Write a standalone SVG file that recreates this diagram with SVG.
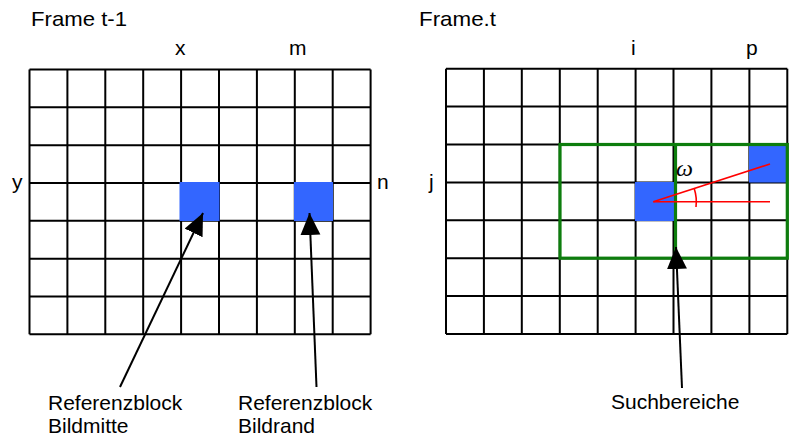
<svg xmlns="http://www.w3.org/2000/svg" width="789" height="440" viewBox="0 0 789 440">
<style>
.grid{fill:none;stroke:#000;stroke-width:2}
.blk{fill:#3366ff}
.lbl{font-family:"Liberation Sans",Arial,sans-serif;font-size:21px;fill:#000}
.conn{stroke:#000;stroke-width:2;fill:none}
.red{stroke:#ff0000;stroke-width:1.6;fill:none}
.green{stroke:#0d7d0d;stroke-width:3.2;fill:none}
</style>
<defs>
<marker id="ah" markerUnits="userSpaceOnUse" markerWidth="24" markerHeight="22" refX="22" refY="10" orient="auto" viewBox="0 0 24 22">
<path d="M0,0 L22,10 L0,20 Z" fill="#000"/>
</marker>
</defs>
<rect width="789" height="440" fill="#fff"/>
<g id="frame-t-1">
<path class="grid" d="M29.5,69.5V334.3M67.4,69.5V334.3M105.3,69.5V334.3M143.2,69.5V334.3M181.1,69.5V334.3M219,69.5V334.3M256.9,69.5V334.3M294.8,69.5V334.3M332.7,69.5V334.3M370.6,69.5V334.3M29.5,69.5H370.6M29.5,107.3H370.6M29.5,145.2H370.6M29.5,183H370.6M29.5,220.8H370.6M29.5,258.7H370.6M29.5,296.5H370.6M29.5,334.3H370.6"/>
<rect id="ref-mitte" class="blk" x="179.5" y="182" width="40" height="39"/>
<rect id="ref-rand" class="blk" x="294" y="182" width="39" height="39"/>
<text class="lbl" x="31" y="26" textLength="96" lengthAdjust="spacingAndGlyphs">Frame t-1</text>
<text class="lbl" x="175" y="55">x</text>
<text class="lbl" x="289" y="55">m</text>
<text class="lbl" x="12" y="189">y</text>
<text class="lbl" x="377" y="189">n</text>
</g>
<g id="frame-t">
<path class="grid" d="M446,68.7V334M483.9,68.7V334M521.8,68.7V334M559.8,68.7V334M597.7,68.7V334M635.6,68.7V334M673.5,68.7V334M711.4,68.7V334M749.4,68.7V334M787.3,68.7V334M446,68.7H787.3M446,106.6H787.3M446,144.5H787.3M446,182.4H787.3M446,220.3H787.3M446,258.2H787.3M446,296.1H787.3M446,334H787.3"/>
<rect class="blk" x="635" y="182" width="39" height="39"/>
<rect class="blk" x="749" y="144" width="38.5" height="38.5"/>
<g id="suchbereiche-box">
<rect class="green" x="560" y="144.5" width="227.3" height="113.7"/>
<line class="green" x1="675.5" y1="144.5" x2="675.5" y2="258.2"/>
</g>
<g id="angle">
<line class="red" x1="653.3" y1="201.7" x2="770" y2="164"/>
<line class="red" x1="653.3" y1="201.7" x2="770" y2="201.7"/>
<path class="red" d="M694.2,188.5 A43,43 0 0 1 696,207"/>
<text x="676" y="176" font-family="'Liberation Serif','Times New Roman',serif" font-style="italic" font-size="24">ω</text>
</g>
<text class="lbl" x="419" y="26" textLength="77" lengthAdjust="spacingAndGlyphs">Frame.t</text>
<text class="lbl" x="631" y="55">i</text>
<text class="lbl" x="746" y="55">p</text>
<text class="lbl" x="429" y="189">j</text>
</g>
<g id="connectors">
<line class="conn" x1="120" y1="387" x2="203" y2="213" marker-end="url(#ah)"/>
<line class="conn" x1="316.5" y1="387" x2="309.5" y2="213" marker-end="url(#ah)"/>
<line class="conn" x1="682" y1="388" x2="676" y2="247" marker-end="url(#ah)"/>
</g>
<g id="label-mitte">
<text class="lbl" x="48" y="410">Referenzblock</text>
<text class="lbl" x="48" y="433">Bildmitte</text>
</g>
<g id="label-rand">
<text class="lbl" x="238" y="410">Referenzblock</text>
<text class="lbl" x="238" y="433">Bildrand</text>
</g>
<g id="label-such">
<text class="lbl" x="611" y="409">Suchbereiche</text>
</g>
</svg>
